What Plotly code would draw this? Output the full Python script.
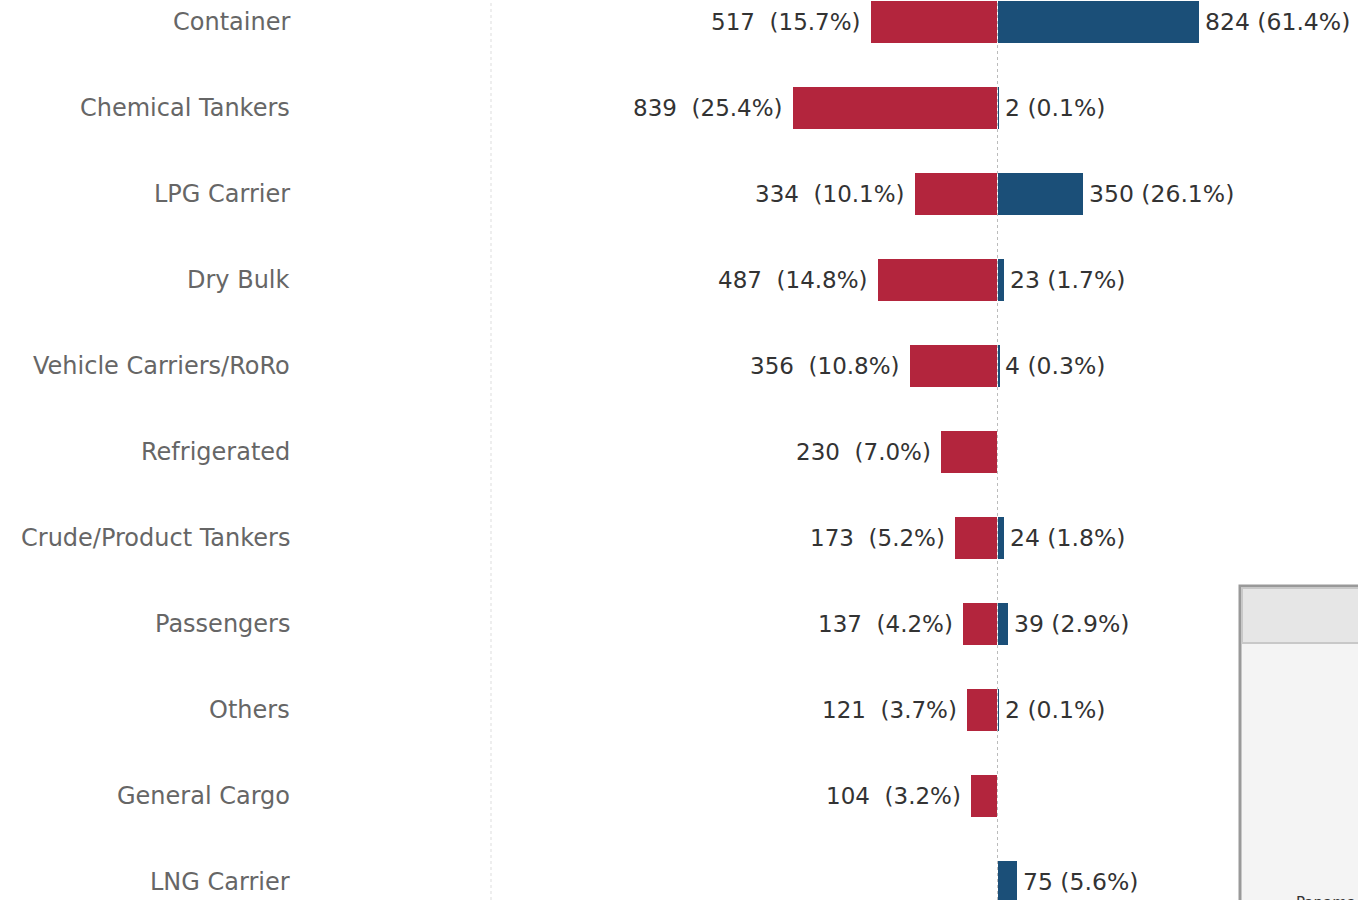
import plotly.graph_objects as go

categories = ["Container", "Chemical Tankers", "LPG Carrier", "Dry Bulk",
              "Vehicle Carriers/RoRo", "Refrigerated", "Crude/Product Tankers",
              "Passengers", "Others", "General Cargo", "LNG Carrier"]
left_vals = [517, 839, 334, 487, 356, 230, 173, 137, 121, 104, 0]
left_pct = [15.7, 25.4, 10.1, 14.8, 10.8, 7.0, 5.2, 4.2, 3.7, 3.2, None]
right_vals = [824, 2, 350, 23, 4, 0, 24, 39, 2, 0, 75]
right_pct = [61.4, 0.1, 26.1, 1.7, 0.3, None, 1.8, 2.9, 0.1, None, 5.6]

RED = "#b3253d"
BLUE = "#1b4f78"
W, H = 1358, 900
CENTER_PX = 997.5
PX_PER_UNIT = 0.243
ROW0_PX, ROW_STEP = 22, 86
GAP = 0.9 / PX_PER_UNIT  # small white gap on each side of the centre line

ys = list(range(len(categories)))
x_lo = -CENTER_PX / PX_PER_UNIT
x_hi = (W - CENTER_PX) / PX_PER_UNIT
y_top = -ROW0_PX / ROW_STEP
y_bot = (H - ROW0_PX) / ROW_STEP

fig = go.Figure()
fig.add_trace(go.Bar(y=ys, x=[-v for v in left_vals], base=-GAP, orientation="h",
                     marker=dict(color=RED, line=dict(width=0)),
                     width=42 / ROW_STEP, hoverinfo="skip"))
fig.add_trace(go.Bar(y=ys, x=right_vals, base=GAP, orientation="h",
                     marker=dict(color=BLUE, line=dict(width=0)),
                     width=42 / ROW_STEP, hoverinfo="skip"))

font_fam = "DejaVu Sans, sans-serif"
ann = []
for i, c in enumerate(categories):
    ann.append(dict(x=292 / W, xref="paper", y=i, yref="y", text=c, showarrow=False,
                    xanchor="right", yanchor="middle",
                    font=dict(family=font_fam, size=24, color="#666666")))
    if left_vals[i] > 0:
        ann.append(dict(x=-left_vals[i] - GAP, xref="x", y=i, yref="y",
                        text=f"{left_vals[i]}&nbsp; ({left_pct[i]:.1f}%)", showarrow=False,
                        xanchor="right", yanchor="middle", xshift=-8,
                        font=dict(family=font_fam, size=23, color="#333333")))
    if right_pct[i] is not None:
        ann.append(dict(x=right_vals[i] + GAP, xref="x", y=i, yref="y",
                        text=f"{right_vals[i]} ({right_pct[i]:.1f}%)", showarrow=False,
                        xanchor="left", yanchor="middle", xshift=4,
                        font=dict(family=font_fam, size=23.5, color="#333333")))

# overlay panel partially visible at the bottom right
ann.append(dict(x=1294 / W, xref="paper", y=1 - 892 / H, yref="paper", text="Panama",
                showarrow=False, xanchor="left", yanchor="top",
                font=dict(family=font_fam, size=15, color="#333333")))

shapes = [
    dict(type="line", xref="paper", yref="paper", x0=491 / W, x1=491 / W, y0=0, y1=1,
         line=dict(color="#dddddd", width=1, dash="dot"), layer="below"),
    dict(type="line", xref="x", yref="paper", x0=0, x1=0, y0=0, y1=1,
         line=dict(color="#bbbbbb", width=1, dash="dot"), layer="below"),
    dict(type="rect", xref="paper", yref="paper", x0=1240 / W, x1=1.01, y0=-0.01,
         y1=1 - 586 / H, fillcolor="#f4f4f4", line=dict(color="#999999", width=3),
         layer="above"),
    dict(type="rect", xref="paper", yref="paper", x0=1242 / W, x1=1.01, y0=1 - 643 / H,
         y1=1 - 588 / H, fillcolor="#e6e6e6", line=dict(color="#c8c8c8", width=2),
         layer="above"),
]

fig.update_layout(
    width=W, height=H, margin=dict(l=0, r=0, t=0, b=0),
    paper_bgcolor="white", plot_bgcolor="white", barmode="overlay",
    showlegend=False, bargap=0,
    xaxis=dict(range=[x_lo, x_hi], visible=False, fixedrange=True),
    yaxis=dict(range=[y_bot, y_top], visible=False, fixedrange=True),
    annotations=ann, shapes=shapes,
)
fig.write_html("out.html", config={"displayModeBar": False},
               post_script="document.body.style.margin='0';document.body.style.overflow='hidden';")
